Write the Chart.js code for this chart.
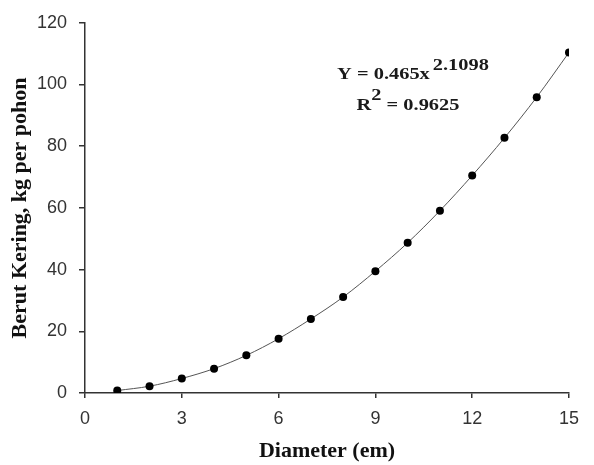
<!DOCTYPE html>
<html>
<head>
<meta charset="utf-8">
<script src="https://cdn.jsdelivr.net/npm/chart.js@4"></script>
<style>
html,body{margin:0;padding:0;background:#fff;}
#wrap{position:relative;width:594px;height:465px;}
</style>
</head>
<body>
<div id="wrap"><canvas id="c" width="594" height="465"></canvas></div>
<script>
const diameters = [1,2,3,4,5,6,7,8,9,10,11,12,13,14,15];
const dryWeight = [0.8,2.2,4.7,7.9,12.2,17.6,24.0,31.1,39.5,48.7,59.1,70.5,82.7,95.9,110.4];
const xTicks = [0,3,6,9,12,15];
const yTicks = [0,20,40,60,80,100,120];
const xTitle = 'Diameter (em)';
const yTitle = 'Berut Kering, kg per pohon';
const eqMain = 'Y = 0.465x';
const eqExp = '2.1098';
const r2Main = 'R';
const r2Exp = '2';
const r2Rest = ' = 0.9625';

const serifBold = 'bold 17px "Liberation Serif", "Times New Roman", serif';

const eqPlugin = {
  id: 'eq',
  afterDraw(chart) {
    const ctx = chart.ctx;
    const a = chart.chartArea;
    const sx = 1.2;
    ctx.save();
    ctx.fillStyle = '#1a1a1a';
    ctx.font = serifBold;
    ctx.textBaseline = 'alphabetic';
    const draw = (t, px, py) => {
      ctx.save();
      ctx.translate(px, py);
      ctx.scale(sx, 1);
      ctx.fillText(t, 0, 0);
      ctx.restore();
    };
    // line 1
    const w1 = ctx.measureText(eqMain).width * sx;
    const w2 = ctx.measureText(eqExp).width * sx;
    const cx1 = 413;
    let x = cx1 - (w1 + w2 + 3) / 2;
    draw(eqMain, x, a.top + 56);
    draw(eqExp, x + w1 + 3, a.top + 47);
    // line 2
    const r1 = ctx.measureText(r2Main).width * sx;
    const r2 = ctx.measureText(r2Exp).width * sx;
    const r3 = ctx.measureText(r2Rest).width * sx;
    const cx2 = 408;
    x = cx2 - (r1 + r2 + r3) / 2;
    draw(r2Main, x, a.top + 87);
    draw(r2Exp, x + r1, a.top + 77);
    draw(r2Rest, x + r1 + r2, a.top + 87);
    ctx.restore();
  }
};

new Chart(document.getElementById('c'), {
  type: 'scatter',
  data: {
    datasets: [{
      data: diameters.map((d, i) => ({x: d, y: dryWeight[i]})),
      showLine: true,
      tension: 0.4,
      cubicInterpolationMode: 'monotone',
      borderColor: '#555',
      borderWidth: 1,
      pointRadius: 4,
      pointBackgroundColor: '#000',
      pointBorderColor: '#000',
      pointBorderWidth: 0
    }]
  },
  options: {
    responsive: false,
    animation: false,
    devicePixelRatio: 1,
    layout: {padding: {left: 0, right: 25, top: 18, bottom: 0}},
    plugins: {legend: {display: false}, tooltip: {enabled: false}},
    scales: {
      x: {
        type: 'linear', min: 0, max: 15,
        afterBuildTicks: s => { s.ticks = xTicks.map(v => ({value: v})); },
        afterFit: s => { s.height = 72; },
        grid: {drawOnChartArea: false, drawTicks: true, tickLength: 5, color: '#333', lineWidth: 1.5},
        border: {color: '#333', width: 1.5},
        ticks: {color: '#333', font: {family: '"Liberation Sans", Arial, sans-serif', size: 18}, padding: 10, maxRotation: 0},
        title: {display: true, text: xTitle, color: '#111', font: {family: '"Liberation Serif", "Times New Roman", serif', size: 22, weight: 'bold'}, padding: {top: 0, bottom: 0}}
      },
      y: {
        type: 'linear', min: 0, max: 120,
        afterBuildTicks: s => { s.ticks = yTicks.map(v => ({value: v})); },
        afterFit: s => { s.width = 85; },
        grid: {drawOnChartArea: false, drawTicks: true, tickLength: 6, color: '#333', lineWidth: 1.5},
        border: {color: '#333', width: 1.5},
        ticks: {color: '#333', font: {family: '"Liberation Sans", Arial, sans-serif', size: 18}, padding: 12},
        title: {display: true, text: yTitle, color: '#111', font: {family: '"Liberation Serif", "Times New Roman", serif', size: 22, weight: 'bold'}, padding: {top: 7, bottom: 0}}
      }
    }
  },
  plugins: [eqPlugin]
});
</script>
</body>
</html>
